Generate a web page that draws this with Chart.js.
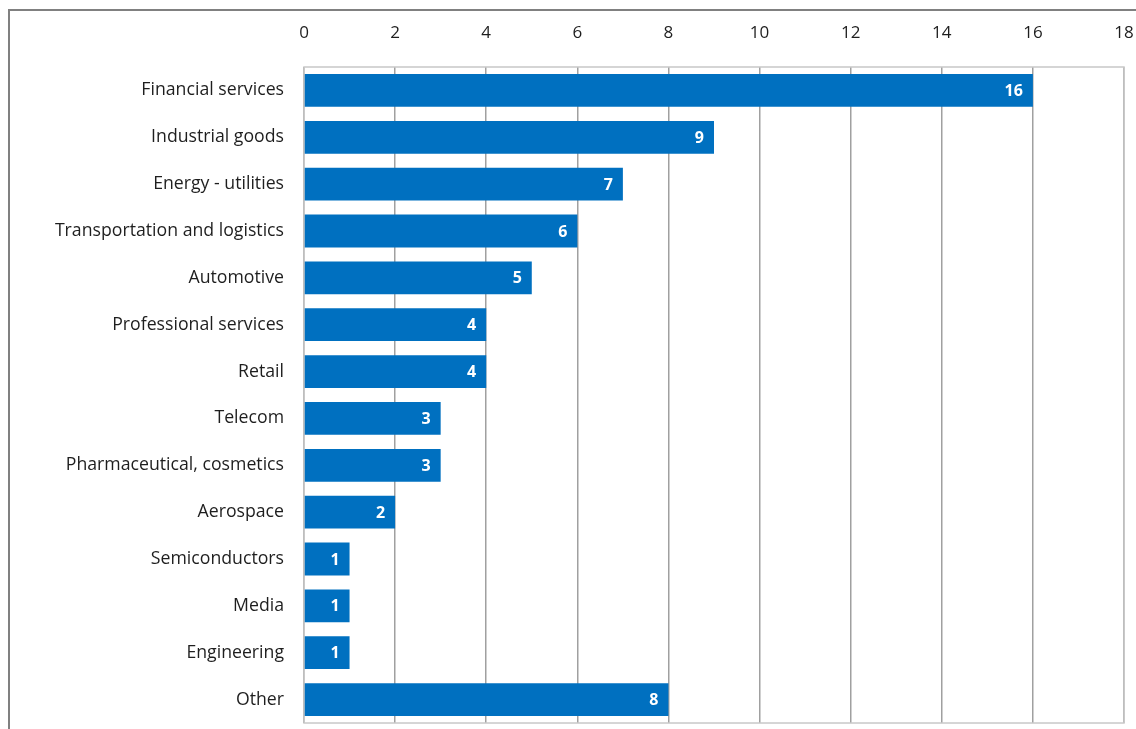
<!DOCTYPE html>
<html>
<head>
<meta charset="utf-8">
<script src="https://cdn.jsdelivr.net/npm/chart.js@4/dist/chart.umd.min.js"></script>
<style>
  html, body { margin: 0; padding: 0; background: #fff; }
  #wrap { position: relative; width: 1136px; height: 729px; overflow: hidden; }
  #frame { position: absolute; left: 8px; top: 9px; width: 1200px; height: 800px;
           border-left: 2px solid #808080; border-top: 2px solid #808080; }
  canvas { position: absolute; left: 0; top: 0; }
</style>
</head>
<body>
<div id="wrap">
  <div id="frame"></div>
  <canvas id="chart" width="1136" height="729"></canvas>
</div>
<script>
const categories = [
  'Financial services', 'Industrial goods', 'Energy - utilities',
  'Transportation and logistics', 'Automotive', 'Professional services',
  'Retail', 'Telecom', 'Pharmaceutical, cosmetics', 'Aerospace',
  'Semiconductors', 'Media', 'Engineering', 'Other'
];
const counts = [16, 9, 7, 6, 5, 4, 4, 3, 3, 2, 1, 1, 1, 8];
const tickValues = [0, 2, 4, 6, 8, 10, 12, 14, 16, 18];

const FONT = '"Open Sans", Lato, sans-serif';

// white value labels at the end of each bar
const valueLabels = {
  id: 'valueLabels',
  afterDatasetsDraw(chart) {
    const ctx = chart.ctx;
    const meta = chart.getDatasetMeta(0);
    ctx.save();
    ctx.fillStyle = '#ffffff';
    ctx.font = 'bold 16px ' + FONT;
    ctx.textAlign = 'right';
    ctx.textBaseline = 'middle';
    meta.data.forEach((bar, i) => {
      ctx.fillText(String(counts[i]), bar.x - 10, bar.y + 1);
    });
    ctx.restore();
  }
};

// light border round the plot area
const plotBorder = {
  id: 'plotBorder',
  beforeDatasetsDraw(chart) {
    const a = chart.chartArea;
    const ctx = chart.ctx;
    ctx.save();
    ctx.strokeStyle = '#c8c8c8';
    ctx.lineWidth = 1.5;
    ctx.strokeRect(a.left, a.top, a.right - a.left, a.bottom - a.top);
    ctx.restore();
  }
};

new Chart(document.getElementById('chart'), {
  type: 'bar',
  data: {
    labels: categories,
    datasets: [{
      data: counts,
      backgroundColor: '#0070c0',
      borderWidth: 0,
      categoryPercentage: 1,
      barPercentage: 0.7
    }]
  },
  options: {
    indexAxis: 'y',
    responsive: false,
    animation: false,
    layout: { padding: { top: 0, right: 12, bottom: 6, left: 0 } },
    plugins: { legend: { display: false }, tooltip: { enabled: false } },
    scales: {
      x: {
        position: 'top',
        min: 0,
        max: 18,
        afterBuildTicks(scale) { scale.ticks = tickValues.map(v => ({ value: v })); },
        afterFit(scale) {
          scale.height = 67;
          scale.paddingLeft = 0; scale.paddingRight = 0;
          scale.paddingTop = 0; scale.paddingBottom = 0;
        },
        grid: { color: '#a0a0a0', lineWidth: 1.5, drawTicks: false },
        border: { display: false },
        ticks: { color: '#1e1e1e', font: { family: FONT, size: 17 }, padding: 24 }
      },
      y: {
        afterFit(scale) {
          scale.width = 304;
          scale.paddingLeft = 0; scale.paddingRight = 0;
          scale.paddingTop = 0; scale.paddingBottom = 0;
        },
        grid: { display: false, drawTicks: false },
        border: { display: false },
        ticks: { color: '#1e1e1e', font: { family: FONT, size: 17.7 }, padding: 20 }
      }
    }
  },
  plugins: [plotBorder, valueLabels]
});
</script>
</body>
</html>
